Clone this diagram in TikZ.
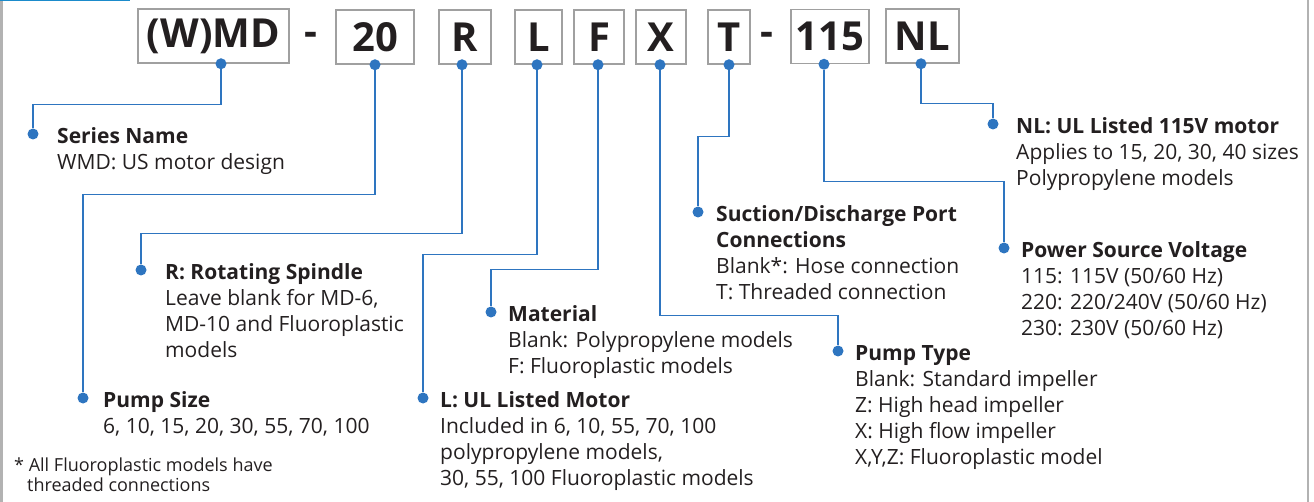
\documentclass[tikz,border=0pt]{standalone}
\usepackage{fontspec}
\setmainfont{Open Sans}
\usepackage{tikz}
\usetikzlibrary{positioning}
\definecolor{pblue}{RGB}{46,117,192}
\definecolor{tblue}{RGB}{27,139,203}
\definecolor{boxgray}{RGB}{160,160,160}
\definecolor{ink}{RGB}{35,31,32}
\tikzset{code/.style={draw=boxgray, line width=1.5pt, inner sep=0pt,
    minimum height=54pt, text=ink, font=\fontsize{40}{44}\selectfont\bfseries}}
\tikzset{hyph/.style={inner sep=0pt, text=ink, font=\fontsize{40}{44}\selectfont\bfseries}}
\tikzset{dot/.style={circle, fill=pblue, inner sep=0pt, minimum size=11pt}}
\tikzset{wire/.style={draw=pblue, line width=1.3pt}}
\tikzset{lbl/.style={anchor=north west, align=left, inner sep=0pt,
    text=ink, font=\fontsize{21}{26}\selectfont}}

\begin{document}
\begin{tikzpicture}[x=1pt, y=-1pt]
  \useasboundingbox (0,0) rectangle (1314,502);
  % frame
  \draw[gray!60, line width=2.5pt] (1.5,0) -- (1.5,502);
  \draw[gray!60, line width=2.5pt] (1308,0) -- (1308,502);
  \draw[tblue, line width=2pt] (0,0.5) -- (130,0.5);

  % model code boxes
  \node[code, minimum width=151pt] (wmd) at (213.5,36) {(W)MD};
  \node[hyph] (hyph1) at (310.5,39) {-};
  \node[code, minimum width=78pt] (size) at (375,37) {20};
  \node[code, minimum width=52pt] (spindle) at (465,37) {R};
  \node[code, minimum width=47pt] (motor) at (538.5,37) {L};
  \node[code, minimum width=50pt] (material) at (599,37) {F};
  \node[code, minimum width=50pt] (type) at (661,37) {X};
  \node[code, minimum width=42pt] (port) at (729,37) {T};
  \node[hyph] (hyph2) at (767,39) {-};
  \node[code, minimum width=78pt] (volt) at (830,36.5) {115};
  \node[code, minimum width=73pt] (nl) at (922.5,36) {NL};

  % dots under the boxes
  \node[dot] (pWmd) at ([xshift=7.5pt]wmd.south) {};
  \node[dot] (pSize) at (size.south) {};
  \node[dot] (pSpindle) at ([xshift=-3pt]spindle.south) {};
  \node[dot] (pMotor) at ([xshift=-1.5pt]motor.south) {};
  \node[dot] (pMaterial) at ([xshift=-1pt]material.south) {};
  \node[dot] (pType) at ([xshift=-1pt]type.south) {};
  \node[dot] (pPort) at (port.south) {};
  \node[dot] (pVolt) at ([xshift=-6pt]volt.south) {};
  \node[dot] (pNl) at ([xshift=-1.5pt]nl.south) {};

  % dots at the labels
  \node[dot] (dSeries) at (33,134) {};
  \node[dot] (dSize) at (83,398) {};
  \node[dot] (dSpindle) at (141,270) {};
  \node[dot] (dMotor) at (423,398) {};
  \node[dot] (dMaterial) at (491,312) {};
  \node[dot] (dPort) at (698,212) {};
  \node[dot] (dType) at (838,351) {};
  \node[dot] (dVolt) at (1004,248) {};
  \node[dot] (dNl) at (993,124) {};

  % labels
  \node[lbl] (tSeries) at ([shift={(24,-9)}]dSeries.center)
    {\strut\textbf{Series Name}\\WMD: US motor design};
  \node[lbl] (tSize) at ([shift={(20,-9)}]dSize.center)
    {\strut\textbf{Pump Size}\\6, 10, 15, 20, 30, 55, 70, 100};
  \node[lbl] (tSpindle) at ([shift={(24,-9)}]dSpindle.center)
    {\strut\textbf{R: Rotating Spindle}\\Leave blank for MD-6,\\MD-10 and Fluoroplastic\\models};
  \node[lbl] (tMotor) at ([shift={(17,-9)}]dMotor.center)
    {\strut\textbf{L: UL Listed Motor}\\Included in 6, 10, 55, 70, 100\\polypropylene models,\\30, 55, 100 Fluoroplastic models};
  \node[lbl] (tMaterial) at ([shift={(17,-9)}]dMaterial.center)
    {\strut\textbf{Material}\\Blank: Polypropylene models\\F: Fluoroplastic models};
  \node[lbl] (tPort) at ([shift={(18,-9)}]dPort.center)
    {\strut\textbf{Suction/Discharge Port}\\\textbf{Connections}\\Blank*: Hose connection\\T: Threaded connection};
  \node[lbl] (tType) at ([shift={(17,-9)}]dType.center)
    {\strut\textbf{Pump Type}\\Blank: Standard impeller\\Z: High head impeller\\X: High flow impeller\\X,Y,Z: Fluoroplastic model};
  \node[lbl] (tVolt) at ([shift={(17,-9)}]dVolt.center)
    {\strut\textbf{Power Source Voltage}\\115: 115V (50/60 Hz)\\220: 220/240V (50/60 Hz)\\230: 230V (50/60 Hz)};
  \node[lbl] (tNl) at ([shift={(23,-9)}]dNl.center)
    {\strut\textbf{NL: UL Listed 115V motor}\\Applies to 15, 20, 30, 40 sizes\\Polypropylene models};
  \node[lbl, font=\fontsize{18}{20}\selectfont] (note) at (14,457)
    {\strut* All Fluoroplastic models have\\\hspace*{13pt}threaded connections};

  % connectors
  \draw[wire] (pWmd) -- ++(0,41) -| (dSeries);
  \draw[wire] (pSize) -- ++(0,130) -| (dSize);
  \draw[wire] (pSpindle) -- ++(0,169) -| (dSpindle);
  \draw[wire] (pMotor) -- ++(0,190) -| (dMotor);
  \draw[wire] (pMaterial) -- ++(0,205) -| (dMaterial);
  \draw[wire] (pType) -- ++(0,251) -| (dType);
  \draw[wire] (pPort) -- ++(0,72) -| (dPort);
  \draw[wire] (pVolt) -- ++(0,117) -| (dVolt);
  \draw[wire] (pNl) -- ++(0,40) -| (dNl);
\end{tikzpicture}
\end{document}
